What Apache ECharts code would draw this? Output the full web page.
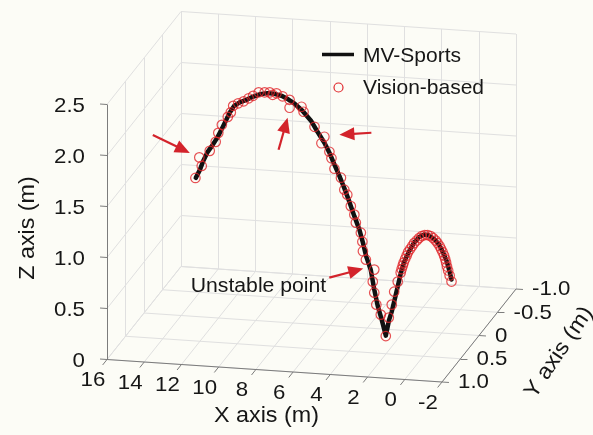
<!DOCTYPE html>
<html>
<head>
<meta charset="utf-8">
<script src="https://cdn.jsdelivr.net/npm/echarts@6/dist/echarts.min.js"></script>
<style>
  html, body { margin: 0; padding: 0; background: #fcfcf6; }
  #chart { width: 593px; height: 435px; }
</style>
</head>
<body>
<div id="chart"></div>
<script>
// ---- Axis ticks (metres) ----
const xTicks = [16, 14, 12, 10, 8, 6, 4, 2, 0, -2];
const yTicks = [1.0, 0.5, 0, -0.5, -1.0];
const zTicks = [0, 0.5, 1.0, 1.5, 2.0, 2.5];
const xTickLabels = ['16', '14', '12', '10', '8', '6', '4', '2', '0', '-2'];
const yTickLabels = ['1.0', '0.5', '0', '-0.5', '-1.0'];
const zTickLabels = ['0', '0.5', '1.0', '1.5', '2.0', '2.5'];

// Lateral (Y) offset of the ball's flight plane, metres
const flightY = 0.2;

// ---- MV-Sports reconstructed trajectory ----
const mvX = [12.82, 12.60, 12.42, 12.18, 11.91, 11.67, 11.45, 11.24, 11.00, 10.76,
             10.46, 10.11, 9.76, 9.39, 8.96, 8.59, 8.21, 7.86, 7.51, 7.09,
             6.63, 6.28, 5.91, 5.64, 5.37, 5.10, 4.84, 4.57, 4.30, 4.03,
             3.84, 3.66, 3.42, 3.23, 3.04, 2.83, 2.61, 2.43, 2.29, 2.16,
             1.97, 1.81, 1.62, 1.35, 1.09, 0.82, 0.55, 0.28, 0.01, -0.25,
             -0.47, -0.66, -0.79, -0.92];
const mvZ = [1.455, 1.536, 1.626, 1.718, 1.790, 1.861, 1.942, 2.023, 2.115, 2.186,
             2.224, 2.253, 2.287, 2.316, 2.333, 2.331, 2.316, 2.286, 2.247, 2.183,
             2.091, 1.987, 1.884, 1.790, 1.675, 1.566, 1.452, 1.323, 1.184, 1.055,
             0.930, 0.795, 0.670, 0.477, 0.317, 0.188, 0.033, 0.193, 0.273, 0.372,
             0.522, 0.651, 0.771, 0.878, 0.964, 1.022, 1.050, 1.043, 1.012, 0.961,
             0.886, 0.805, 0.723, 0.627];

// ---- Vision-based detections ----
const visX = [12.84, 12.50, 12.63, 12.07, 11.75, 11.61, 11.42, 11.10, 10.94, 10.81,
              10.54, 10.25, 9.98, 9.74, 9.44, 9.12, 8.85, 8.69, 8.48, 8.16,
              7.78, 7.78, 7.14, 7.03, 6.44, 5.91, 6.07, 5.64, 5.53, 5.37,
              5.02, 4.84, 4.68, 4.49, 4.30, 4.22, 3.95, 3.87, 3.84, 3.68,
              3.23, 3.31, 3.23, 3.12, 2.88, 2.61, 2.45, 2.29, 2.16, 1.97,
              1.81, 1.76, 1.70, 1.65, 1.57, 1.49, 1.41, 1.30, 1.19, 1.09,
              0.95, 0.82, 0.68, 0.52, 0.36, 0.20, 0.07, -0.07, -0.17, -0.28,
              -0.36, -0.44, -0.52, -0.58, -0.63, -0.68, -0.74, -0.82, -0.92];
const visZ = [1.454, 1.576, 1.658, 1.729, 1.821, 1.911, 1.992, 2.074, 2.120, 2.186,
              2.214, 2.237, 2.270, 2.297, 2.335, 2.339, 2.342, 2.320, 2.337, 2.312,
              2.282, 2.204, 2.222, 2.174, 2.034, 1.943, 1.877, 1.799, 1.737, 1.636,
              1.552, 1.437, 1.390, 1.280, 1.199, 1.121, 1.026, 0.939, 0.846, 0.765,
              0.673, 0.554, 0.447, 0.331, 0.236, 0.029, 0.212, 0.341, 0.470, 0.571,
              0.661, 0.696, 0.731, 0.761, 0.797, 0.832, 0.867, 0.898, 0.929, 0.959,
              0.986, 1.012, 1.033, 1.045, 1.047, 1.039, 1.021, 0.998, 0.975, 0.947,
              0.919, 0.890, 0.857, 0.823, 0.790, 0.751, 0.713, 0.665, 0.607];

// Detections singled out with arrows (indices into visX / visZ)
const flaggedDetections = [2, 21, 25, 40];

// ---- Oblique 3-D view of the axes box ----
const box = { x: [-2, 16], y: [-1, 1], z: [0, 2.5] };
const origin = [107, 359.5];   // screen point of the corner (x=16, y=1, z=0)
const runX = [335, 22.5];      // screen run across the x range (16 -> -2)
const runY = [74, -93];        // screen run across the y range (1 -> -1)
const runZ = [0, -255];        // screen run across the z range (0 -> 2.5)

function project(x, y, z) {
  const a = (box.x[1] - x) / (box.x[1] - box.x[0]);
  const b = (box.y[1] - y) / (box.y[1] - box.y[0]);
  const c = (z - box.z[0]) / (box.z[1] - box.z[0]);
  return [origin[0] + a * runX[0] + b * runY[0] + c * runZ[0],
          origin[1] + a * runX[1] + b * runY[1] + c * runZ[1]];
}
function unit(v) { const l = Math.hypot(v[0], v[1]); return [v[0] / l, v[1] / l]; }

const X0 = box.x[0], X1 = box.x[1], Y0 = box.y[0], Y1 = box.y[1], Z0 = box.z[0], Z1 = box.z[1];

// Grid on the three back planes
const gridSegs = [];
function gridSeg(p, q) { gridSegs.push({ coords: [project(...p), project(...q)] }); }
xTicks.forEach(x => { gridSeg([x, Y0, Z0], [x, Y0, Z1]); gridSeg([x, Y0, Z0], [x, Y1, Z0]); });
yTicks.forEach(y => { gridSeg([X1, y, Z0], [X1, y, Z1]); gridSeg([X1, y, Z0], [X0, y, Z0]); });
zTicks.forEach(z => { gridSeg([X1, Y0, z], [X0, Y0, z]); gridSeg([X1, Y0, z], [X1, Y1, z]); });

// Axis lines and tick marks
const axisSegs = [];
function axisSeg(a, b) { axisSegs.push({ coords: [a, b] }); }
axisSeg(project(X1, Y1, Z0), project(X0, Y1, Z0));
axisSeg(project(X0, Y1, Z0), project(X0, Y0, Z0));
axisSeg(project(X1, Y1, Z0), project(X1, Y1, Z1));
const dirFront = unit([-runY[0], -runY[1]]);
const dirRight = unit(runX);
const dirLeft = [-dirRight[0], -dirRight[1]];
const tickLen = 7;
function tick(p, d) { axisSeg(p, [p[0] + d[0] * tickLen, p[1] + d[1] * tickLen]); }
xTicks.forEach(x => tick(project(x, Y1, Z0), dirFront));
yTicks.forEach(y => tick(project(X0, y, Z0), dirRight));
zTicks.forEach(z => tick(project(X1, Y1, z), dirLeft));

// Text labels
const FONT = '"Liberation Sans", Arial, Helvetica, sans-serif';
const tickFont = '21px ' + FONT;
const titleFont = '22px ' + FONT;
const WIDEN = 1.06;   // slightly wide lettering
const labels = [];
xTicks.forEach((x, i) => {
  const p = project(x, Y1, Z0);
  labels.push({ pos: [p[0] - 14, p[1] + 21], text: xTickLabels[i], align: 'center', va: 'middle', font: tickFont });
});
yTicks.forEach((y, i) => {
  const p = project(X0, y, Z0);
  labels.push({ pos: [p[0] + 16, p[1] + 0.5], text: yTickLabels[i], align: 'left', va: 'middle', font: tickFont });
});
zTicks.forEach((z, i) => {
  const p = project(X1, Y1, z);
  labels.push({ pos: [p[0] - 22, p[1] + 1.5], text: zTickLabels[i], align: 'right', va: 'middle', font: tickFont });
});
const midX = project((X0 + X1) / 2, Y1, Z0);
const midY = project(X0, (Y0 + Y1) / 2, Z0);
const midZ = project(X1, Y1, (Z0 + Z1) / 2);
labels.push({ pos: [midX[0] - 8, midX[1] + 45], text: 'X axis (m)', align: 'center', va: 'middle', font: titleFont });
labels.push({ pos: [midY[0] + 80, midY[1] + 17], text: 'Y axis (m)', align: 'center', va: 'middle', font: titleFont, rot: 56 * Math.PI / 180 });
labels.push({ pos: [midZ[0] - 79, midZ[1] - 4], text: 'Z axis (m)', align: 'center', va: 'middle', font: titleFont, rot: Math.PI / 2 });

// Arrow annotations: gap from the flagged detection to the tip, tail relative to the tip
const arrowGeom = [
  { tip: [-9.5, -4.5], tail: [-37, -18] },
  { tip: [-2, 10],     tail: [-9, 32] },
  { tip: [15, -2],     tail: [32, -2] },
  { tip: [-11, -1],    tail: [-34, 9], note: 'Unstable point' }
];

const mvData = mvX.map((x, i) => project(x, flightY, mvZ[i]));
const visData = visX.map((x, i) => project(x, flightY, visZ[i]));
const arrowData = flaggedDetections.map(k => visData[k]);

const RED = '#e0262b';
const ARROW_RED = '#d3232b';
const INK = '#161616';

const chart = echarts.init(document.getElementById('chart'), null, { renderer: 'canvas' });
chart.setOption({
  backgroundColor: '#fcfcf6',
  animation: false,
  grid: { left: 0, right: 0, top: 0, bottom: 0 },
  xAxis: { type: 'value', min: 0, max: 593, show: false },
  yAxis: { type: 'value', min: 0, max: 435, inverse: true, show: false },
  tooltip: { show: false },
  series: [
    {
      type: 'lines', coordinateSystem: 'cartesian2d', silent: true, z: 1,
      data: gridSegs, lineStyle: { color: '#e0e0e0', width: 1, opacity: 1 }
    },
    {
      type: 'lines', coordinateSystem: 'cartesian2d', silent: true, z: 2,
      data: axisSegs, lineStyle: { color: '#7c7c7c', width: 1, opacity: 1 }
    },
    {
      name: 'MV-Sports', type: 'line', z: 3, silent: true,
      data: mvData, symbol: 'none', smooth: false,
      lineStyle: { color: '#111111', width: 4.5, join: 'round', cap: 'round' }
    },
    {
      name: 'Vision-based', type: 'scatter', z: 4, silent: true,
      data: visData, symbol: 'circle', symbolSize: 9.5,
      itemStyle: { color: 'rgba(0,0,0,0)', borderColor: RED, borderWidth: 1.2 }
    },
    {
      type: 'custom', z: 5, silent: true, clip: false,
      data: arrowData,
      renderItem(params, api) {
        const g = arrowGeom[params.dataIndex];
        const t = api.coord([api.value(0), api.value(1)]);
        const tip = [t[0] + g.tip[0], t[1] + g.tip[1]];
        const tail = [tip[0] + g.tail[0], tip[1] + g.tail[1]];
        const d = unit([tip[0] - tail[0], tip[1] - tail[1]]);
        const n = [-d[1], d[0]];
        const headLen = 15, halfW = 6.5;
        const base = [tip[0] - d[0] * headLen, tip[1] - d[1] * headLen];
        const children = [
          { type: 'line', shape: { x1: tail[0], y1: tail[1], x2: base[0] + d[0], y2: base[1] + d[1] },
            style: { stroke: ARROW_RED, lineWidth: 2.2 } },
          { type: 'polygon', shape: { points: [tip,
              [base[0] + n[0] * halfW, base[1] + n[1] * halfW],
              [base[0] - n[0] * halfW, base[1] - n[1] * halfW]] },
            style: { fill: ARROW_RED } }
        ];
        if (g.note) {
          children.push({ type: 'text', x: tail[0] - 3, y: tail[1] + 9, scaleX: WIDEN,
            style: { text: g.note, font: '20px ' + FONT, fill: INK, align: 'right', verticalAlign: 'middle' } });
        }
        return { type: 'group', children };
      }
    },
    {
      type: 'custom', z: 6, silent: true, clip: false,
      data: labels.map(l => l.pos),
      renderItem(params, api) {
        const l = labels[params.dataIndex];
        const p = api.coord([api.value(0), api.value(1)]);
        return { type: 'text', x: p[0], y: p[1], rotation: l.rot || 0, scaleX: WIDEN,
          style: { text: l.text, font: l.font, fill: INK, align: l.align, verticalAlign: l.va } };
      }
    }
  ],
  graphic: [
    { type: 'line', shape: { x1: 322, y1: 54.5, x2: 354, y2: 54.5 }, style: { stroke: '#111111', lineWidth: 3.5 }, z: 10 },
    { type: 'text', x: 363, y: 56.5, style: { text: 'MV-Sports', font: '21px ' + FONT, fill: INK, verticalAlign: 'middle' }, z: 10 },
    { type: 'circle', shape: { cx: 338.5, cy: 87.5, r: 4.5 }, style: { fill: 'none', stroke: RED, lineWidth: 1.2 }, z: 10 },
    { type: 'text', x: 363, y: 88.5, style: { text: 'Vision-based', font: '21px ' + FONT, fill: INK, verticalAlign: 'middle' }, z: 10 }
  ]
});
</script>
</body>
</html>
